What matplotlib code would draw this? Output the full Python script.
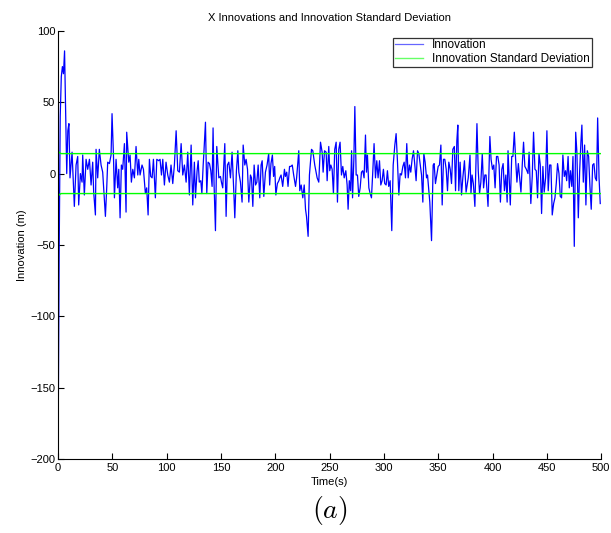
import matplotlib
matplotlib.use("Agg")
import matplotlib.pyplot as plt

# innovation values (time in s, innovation in m)
t_a = [0, 1, 2, 3, 4, 5, 6, 7, 8, 9, 10, 11, 12.9, 15, 16.6, 18.1, 19, 20.6, 22.1, 22.7,
       24.2, 25.8, 27.3, 28.9, 30.4, 31.9, 32.8, 34.4, 35, 36.5, 38, 39.6, 41.1, 43.6,
       44.8, 45.7, 47.3, 48.8, 49.7, 51, 51.9, 53.4, 54.9, 55.9, 57.1, 58.3, 59.5, 61.1,
       62.6, 63.2, 65.1, 66.3, 67.5, 68.8, 70.3, 71.8, 73.4, 74.3, 75.5, 77.3, 78.6,
       80.4, 81.6, 82.9, 84.1, 85.3, 86.6, 87.8, 89.6, 90.9, 92.7, 93.9, 95.2, 96.4,
       97.9, 99.4, 101, 102.5, 104, 105.6, 107.1, 108.7, 110.2, 111.7, 113.3, 114.8,
       116.3, 117.9, 119.4, 120.9, 122.5, 124, 125.5, 126.5]
v_a = [-200, -60, 40, 68, 75, 70, 86, 45, 0, 30, 35, -3, 15, -23, 6, 12, -22, 0, -6, 13,
       -15, 10, 3, 10, -8, 8, -13, -29, 17, -3, 17, 6, 1, -30,
       -10, 8, 7, 13, 42, 13, -17, 10, -10, 3, -31, 6, 3, 21,
       -27, 29, 8, 13, -6, 3, -3, 19, -1, 10, -1, 6, 3,
       -14, -10, -29, 10, -2, -3, 10, -17, 10, 9, 10, -1, 10,
       -8, 8, -1, -6, 6, -7, 6, 30, 2, 1, 21, -1,
       6, -6, 15, -15, 20, -22, 8, -17]

t_b = [128, 129, 130, 131.4, 132.4, 133.6, 134.2, 135.7, 136.9, 138.1, 139.4, 140.6,
       141.8, 142.7, 143.6, 144.9, 146.1, 148, 149.5, 150.4, 151.6, 153.5, 154.7, 155.9,
       157.2, 158.7, 160.2, 161.8, 162.7, 164.2, 165.5, 166.4, 167.9, 169.4, 170.4,
       171.9, 173.1, 174.4, 175.6, 177.1, 178.1, 179.3, 180.5, 181.8, 183, 184.2, 185.7,
       186.9, 187.9, 189.4, 190.9, 192.4, 193.9, 194.8, 196, 197.3, 198.4, 199.4, 200.5,
       201.9, 203.3, 204.1, 205.3, 206.8, 208.4, 209.3, 210.5, 211.7, 213.1, 214.3,
       215.6, 216.9, 218.6, 219.6, 221.6, 222.5, 223.8, 225.3, 226.6, 227.8, 228.7,
       230.2, 231.4, 233.3, 234.5, 236.3, 238.5, 240, 241.6, 243.1, 244, 245.3, 246.8,
       247.7, 249.2]
v_b = [2, 9, -6, -5, -14, 6, 14, 36, -14, 8, 7, 2,
       -9, 32, -7, -40, 19, -3, -2, -6, -10, 21, -30, 6,
       8, -3, 15, -13, -31, 2, 16, 1, -6, -20, 20,
       6, 10, 3, -20, -1, -3, -23, 6, -8, -6, 6, -17,
       6, 9, -16, 1, 6, 14, -8, 7, 13, -2, 5, -15,
       -7, -5, -3, -1, -9, 3, -2, 1, -9, 5, 5,
       6, -1, -9, -3, 16, -12, -8, -17, -8, -25,
       -30, -44, -1, 17, 16, 6, -3, -6, 22, 15,
       1, 16, 15, -5, 19]

t_c = [250.1, 251.1, 252.3, 253.5, 254.7, 256, 257.2, 258.4, 259.6, 260.9, 262.1,
       263.4, 264.9, 266.1, 267, 268.1, 269.3, 270.2, 271.1, 272.3, 273.2, 274.4, 275.6,
       276.8, 278.1, 279.3, 280.5, 281.7, 283, 283.9, 284.8, 286.1, 287.3, 288.5, 289.7,
       290.9, 292.2, 293.4, 294.6, 295.9, 297.1, 298.3, 299.5, 300.7, 302, 303.2, 304.4,
       305.7, 307.2, 308.5, 310, 311.2, 312.4, 313.7, 314.9, 316.1, 317.4, 318.6, 319.8,
       321, 322.3, 323.5, 324.7, 325.9, 327.2, 328.4, 329.6, 330.9, 332.1, 333.4, 334.6,
       335.8, 336.7, 337.9, 339.2, 340.1, 341.4, 342.2, 343.8, 345.3, 346.2, 347.4,
       348.7, 349.9, 351.1, 352.4, 353.6, 354.8, 356, 357.3, 358.5, 359.7, 361, 362.2,
       363.4, 364.8, 365.9, 367.1, 368, 368.9, 370.1, 371.4, 372.6, 374.1, 375.6]
v_c = [2, 6, 3, -14, 17, 22, -20, 17, 22, -1, 5,
       -3, 2, -8, -25, -5, -12, 16, -17, 10, 47, -1, -1,
       -16, -10, 1, 2, -3, 27, 1, 13, -10, -14, -17, 1,
       21, -3, 9, -3, 9, -8, -5, 3, -7, -8, 2, -9,
       -5, -40, 6, 20, 28, 9, -15, 0, -1, 5, 8, -3,
       21, -3, 6, 1, 10, 16, 6, -5, 16, 14, 6, -1,
       -20, 14, 8, -3, -1, -13, -20, -47, 6, 7, -7,
       -1, 5, 6, 20, -22, 10, 10, 3, -12, 8, 3, -7,
       17, 19, -12, 23, 34, -12, 8, -15, -3, 9, -13]

t_d = [377.6, 379.2, 380.1, 381.1, 382.3, 383.7, 385.6, 386.8, 388, 389.2, 390.5,
       391.7, 392.9, 394, 394.6, 395.8, 397.5, 398.6, 399.9, 401.1, 402.3, 403.6,
       404.8, 406, 407.2, 408.5, 409.7, 410.9, 412.2, 413.4, 414.2, 416.3, 417.6,
       418.7, 420, 421.2, 422.4, 423.7, 424.9, 426.1, 427.3, 428.5, 429.7, 431.1,
       432.6, 433.6, 435.2, 436.5, 437.7, 439, 440.2, 441.4, 442.7, 443.9, 445.1,
       446.3, 447.5, 448.8, 450, 451.2, 452.5, 453.7, 454.9, 456.2, 457.4, 458.6,
       459.8, 461.1, 462.3, 463.5, 464.7, 466, 467.2, 468.2, 469.5, 470.6, 471.7,
       472.9, 474, 475.2, 476.5, 477.6, 478.9, 480.1, 481.3, 482.2, 483.5, 484.7,
       485.9, 487.2, 488.4, 489.6, 490.8, 492.1, 493.3, 494.5, 495.7, 496.7, 498,
       499.1]
v_d = [-3, 13, -14, -1, -7, -23, 35, 2, -14, -6, 14,
       -10, -1, -1, -9, -23, 26, 10, 3, 6, -10, 12,
       12, 6, -20, 3, 7, -12, -1, -20, 16, -22, 12,
       12, 29, 10, -6, 7, -3, -13, 6, 22, 5, 3,
       0, 15, -21, -2, 29, 3, 2, -17, 14, 6, -28,
       5, -13, -3, 30, -12, 6, 6, -29, -21, -17, -7,
       7, 0, -16, -17, 13, -2, 2, -5, 12, -10, 2,
       -9, 12, -51, 29, 15, -31, 1, 22, 34, -6, 20,
       -22, 16, 12, -9, -25, 6, 7, -3, -5, 39, -3,
       -21]

time = t_a + t_b + t_c + t_d
innov = v_a + v_b + v_c + v_d

# innovation standard deviation (short transient at the start, then flat)
t_std = [0, 1, 2, 3, 500]
sigma = [15.0, 15.0, 14.3, 14.0, 14.0]

plt.rcParams["font.family"] = ["Liberation Sans", "DejaVu Sans"]
plt.rcParams["mathtext.fontset"] = "cm"

fig = plt.figure(figsize=(6.11, 5.33), dpi=100)
ax = fig.add_axes([0.095, 0.139, 0.889, 0.803])

ax.plot(time, innov, color="#0000ff", lw=0.9, label="Innovation")
ax.plot(t_std, sigma, color="#00ff00", lw=1.0, label="Innovation Standard Deviation")
ax.plot(t_std, [-s for s in sigma], color="#00ff00", lw=1.0)

ax.set_xlim(0, 500)
ax.set_ylim(-200, 100)
ax.set_xticks(range(0, 501, 50))
ax.set_yticks(range(-200, 101, 50))
ax.tick_params(direction="in", labelsize=8, length=4, width=0.8, pad=2)
ax.tick_params(axis="x", pad=3)
for side in ["top", "right"]:
    ax.spines[side].set_visible(False)
for side in ["left", "bottom"]:
    ax.spines[side].set_linewidth(0.8)

ax.set_title("X Innovations and Innovation Standard Deviation", fontsize=8, pad=7)
ax.set_xlabel("Time(s)", fontsize=8, labelpad=2.5)
ax.set_ylabel("Innovation (m)", fontsize=8, labelpad=2)

leg = ax.legend(loc="upper right", fontsize=8.5, frameon=True, fancybox=False,
                borderpad=0.15, handlelength=2.4, labelspacing=0.15,
                bbox_to_anchor=(0.987, 0.99), borderaxespad=0.2)
leg.get_frame().set_edgecolor("black")
leg.get_frame().set_linewidth(0.9)
for line in leg.get_lines():
    line.set_alpha(0.6)

fig.text(0.54, 0.043, "$(a)$", fontsize=20, ha="center", va="center")

fig.savefig("out.png", dpi=100)
